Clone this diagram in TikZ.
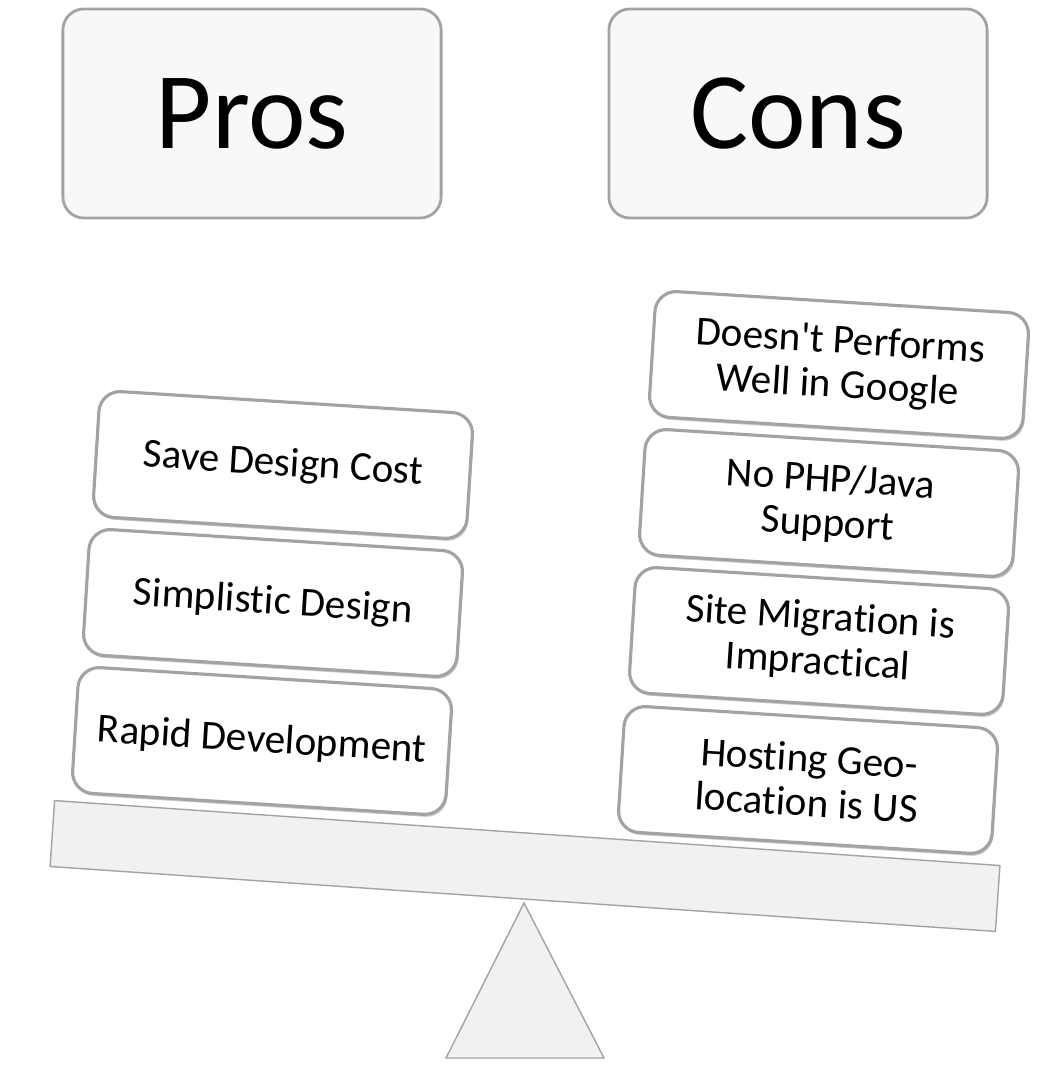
\documentclass[tikz,border=0pt]{standalone}
\usepackage{fontspec}
\setmainfont{Carlito}[Ligatures={NoCommon}]
\usetikzlibrary{shadows}
\definecolor{pcedge}{HTML}{A3A3A3}
\definecolor{pcfill}{HTML}{F8F8F8}
\definecolor{pcplank}{HTML}{F1F1F1}
\begin{document}
\begin{tikzpicture}[x=0.01cm, y=-0.01cm,
  head/.style={draw=pcedge, fill=pcfill, rounded corners=6pt, minimum width=3.78cm, minimum height=2.09cm, font=\fontsize{31}{36}\selectfont, line width=0.8pt},
  item/.style={draw=pcedge, fill=white, rounded corners=6pt, minimum width=3.74cm, minimum height=1.26cm, rotate=-3.6, align=center, font=\fontsize{11.7}{12.6}\selectfont, line width=0.9pt, drop shadow={shadow xshift=0.4pt, shadow yshift=-0.7pt, fill=black!40}},
  plank/.style={draw=pcedge, fill=pcplank, minimum width=9.47cm, minimum height=0.66cm, rotate=-3.93, inner sep=0pt}
]
  \useasboundingbox (0,0) rectangle (1050,1068);

  \node[head] (pros) at (252,113.5) {Pros};
  \node[head] (cons) at (798,113.5) {Cons};

  \draw[draw=pcedge, fill=pcplank] (524,903) -- (604,1058) -- (446,1058) -- cycle;
  \node[plank] (beam) at (525,866) {};

  \node[item] (save) at (283,465) {Save Design Cost};
  \node[item] (simple) at (273,603) {Simplistic Design};
  \node[item] (rapid) at (262,741) {Rapid Development};

  \node[item] (google) at (839,365) {Doesn\textquotesingle t Performs\\Well in Google};
  \node[item] (php) at (829,503) {No PHP/Java\\Support};
  \node[item] (migrate) at (819,641) {Site Migration is\\Impractical};
  \node[item] (geo) at (808,780) {Hosting Geo-\\location is US};
\end{tikzpicture}
\end{document}
